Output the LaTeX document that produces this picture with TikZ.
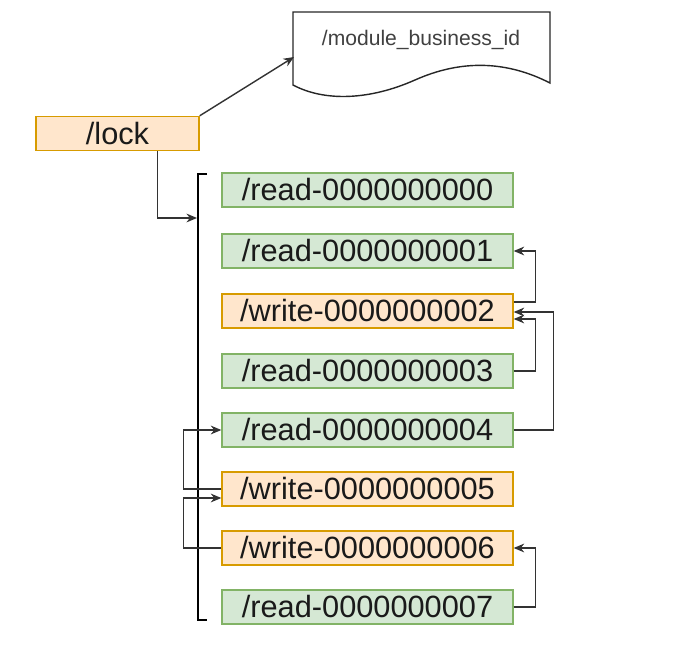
\documentclass[tikz,border=0pt]{standalone}
\usepackage{fontspec}
\setmainfont{Liberation Sans}
\usetikzlibrary{positioning}
\usetikzlibrary{calc}
\usetikzlibrary{arrows.meta}
\definecolor{rdfill}{HTML}{D5E8D4}
\definecolor{rdline}{HTML}{82B366}
\definecolor{wrfill}{HTML}{FFE6CC}
\definecolor{wrline}{HTML}{D79B00}
\definecolor{txt}{HTML}{1A1A1A}

\begin{document}
\begin{tikzpicture}[x=0.02cm,y=-0.02cm,
  rdnode/.style={draw=rdline,fill=rdfill,thick,minimum width=5.82cm,minimum height=0.68cm,inner sep=0pt,text=txt,font=\fontsize{17.5}{20}\selectfont},
  wrnode/.style={rdnode,draw=wrline,fill=wrfill},
  conn/.style={-{Stealth[length=6pt,width=5pt]},draw=black!80,thick}]
 \useasboundingbox (0,0) rectangle (682,651);
 % the document shape
 \draw[black!85,thick](293,12)--(550,12)--(550,83)
   .. controls (505,60) and (460,60) .. (415,80)
   .. controls (370,100) and (325,102) .. (293,85)--cycle;
 \node[text=black!75,font=\fontsize{12}{14}\selectfont] (doc) at (421,40) {/module\_business\_id};
 \coordinate (docin) at (294,57);
 \node[wrnode,minimum width=3.26cm] (lock) at (117.5,133.5) {/lock};
 \draw[conn](lock.north east)--(docin);
 % bracket
 \draw[black,thick](207,174)--(198,174)--(198,620)--(207,620);
 \coordinate (brk) at (197,218);
 \draw[conn]($(lock.south)+(40,0)$)|-(brk);
 \node[rdnode] (r0) at (367.5,190) {/read-0000000000};
 \node[rdnode] (r1) at (367.5,251) {/read-0000000001};
 \node[wrnode] (w2) at (367.5,311) {/write-0000000002};
 \node[rdnode] (r3) at (367.5,371) {/read-0000000003};
 \node[rdnode] (r4) at (367.5,430) {/read-0000000004};
 \node[wrnode] (w5) at (367.5,489) {/write-0000000005};
 \node[wrnode] (w6) at (367.5,548) {/write-0000000006};
 \node[rdnode] (r7) at (367.5,607) {/read-0000000007};
 \draw[conn]($(w2.east)+(0,-9)$)--++(22,0)|-(r1.east);
 \draw[conn](r3.east)--++(22,0)|-($(w2.east)+(0,8)$);
 \draw[conn](r4.east)--++(40,0)|-($(w2.east)+(0,1)$);
 \draw[conn](r7.east)--++(22,0)|-(w6.east);
 \draw[conn](w5.west)--++(-38,0)|-(r4.west);
 \draw[conn](w6.west)--++(-38,0)|-($(w5.west)+(0,9)$);
\end{tikzpicture}
\end{document}
